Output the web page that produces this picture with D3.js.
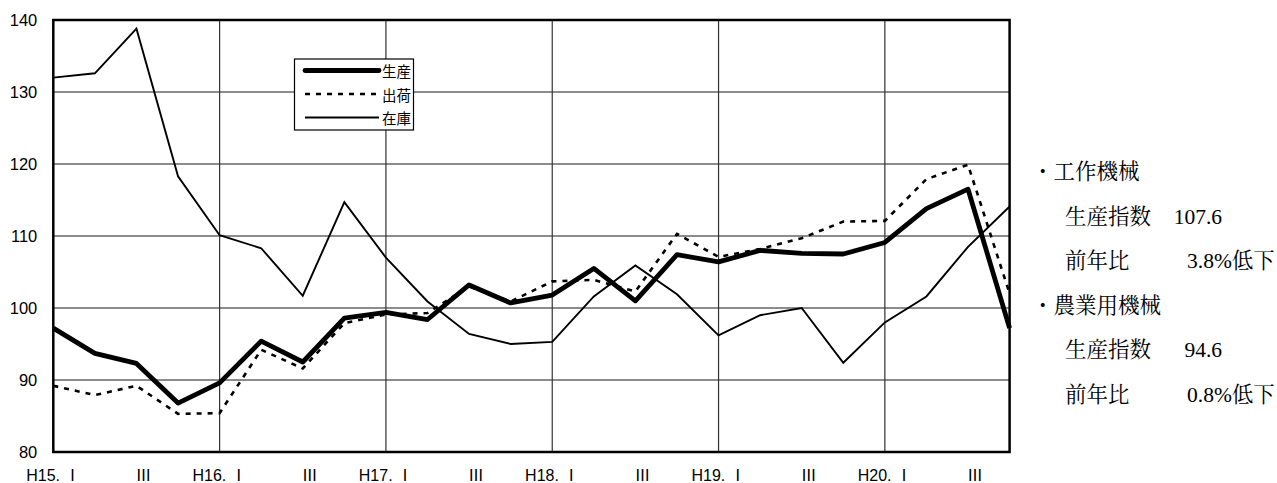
<!DOCTYPE html>
<html><head><meta charset="utf-8">
<script src="https://cdn.jsdelivr.net/npm/d3@7"></script>
<style>
html,body{margin:0;padding:0;background:#fff;}
svg{display:block;}
</style></head>
<body>
<svg id="c" width="1277" height="483"></svg>
<script>
// ---- data ----
const quarters = ["H15. Ⅰ","Ⅱ","Ⅲ","Ⅳ","H16. Ⅰ","Ⅱ","Ⅲ","Ⅳ","H17. Ⅰ","Ⅱ","Ⅲ","Ⅳ",
                  "H18. Ⅰ","Ⅱ","Ⅲ","Ⅳ","H19. Ⅰ","Ⅱ","Ⅲ","Ⅳ","H20. Ⅰ","Ⅱ","Ⅲ","Ⅳ"];
const production = [97.2, 93.7, 92.3, 86.8, 89.6, 95.4, 92.5, 98.6, 99.4, 98.4, 103.2, 100.7,
                    101.8, 105.5, 101.0, 107.4, 106.4, 108.0, 107.6, 107.5, 109.1, 113.8, 116.5, 97.2];
const shipments  = [89.2, 87.9, 89.2, 85.3, 85.4, 94.2, 91.6, 97.9, 99.1, 99.3, 103.0, 100.9,
                    103.7, 103.9, 102.3, 110.3, 107.1, 108.2, 109.7, 112.0, 112.1, 117.9, 119.9, 102.0];
const inventory  = [132.0, 132.6, 138.8, 118.3, 110.1, 108.3, 101.7, 114.7, 107.0, 100.9, 96.4, 95.0,
                    95.3, 101.6, 105.9, 101.9, 96.2, 99.0, 100.0, 92.4, 98.0, 101.6, 108.5, 114.1];
const yTicks = [80, 90, 100, 110, 120, 130, 140];
const seriesNames = ["生産", "出荷", "在庫"];
const noteLines = [
  {label: "・工作機械", value: "", tail: ""},
  {label: "生産指数", value: "107.6", tail: ""},
  {label: "前年比", value: "", tail: "3.8%低下"},
  {label: "・農業用機械", value: "", tail: ""},
  {label: "生産指数", value: "94.6", tail: ""},
  {label: "前年比", value: "", tail: "0.8%低下"}
];

// ---- layout ----
const svg = d3.select("#c");
const L = 53.3, R = 1009.6, T = 20, B = 452;
const x = d3.scaleLinear().domain([0, quarters.length - 1]).range([L, R]);
const y = d3.scaleLinear().domain([80, 140]).range([B, T]);
const sansFont = "'Liberation Sans', Arial, 'Noto Sans CJK JP', sans-serif";

// horizontal gridlines
svg.append("g").selectAll("line").data(yTicks.slice(1, -1)).join("line")
  .attr("x1", L).attr("x2", R).attr("y1", d => y(d)).attr("y2", d => y(d))
  .attr("stroke", "#666").attr("stroke-width", 1.3);
// vertical gridlines at year starts
const yearIdx = d3.range(4, quarters.length, 4);
svg.append("g").selectAll("line").data(yearIdx).join("line")
  .attr("x1", d => x(d)).attr("x2", d => x(d)).attr("y1", T).attr("y2", B)
  .attr("stroke", "#333").attr("stroke-width", 1.2);

// y-axis labels
const yAxis = d3.axisLeft(y).tickValues(yTicks).tickSize(0).tickPadding(16);
const ya = svg.append("g").attr("transform", `translate(${L},0)`).call(yAxis);
ya.select(".domain").remove();
ya.selectAll("text").attr("font-family", sansFont).attr("font-size", 16.5).attr("fill", "#000");

// x-axis labels (every other quarter)
const xa = svg.append("g");
xa.selectAll("text").data(quarters.map((q, i) => ({q, i})).filter(d => d.i % 2 === 0)).join("text")
  .attr("x", d => x(d.i) + (d.i % 4 === 2 ? 7 : 0))
  .attr("y", 481)
  .attr("text-anchor", "middle")
  .attr("font-family", sansFont).attr("font-size", 16).attr("fill", "#000")
  .text(d => d.q);

// series lines
const line = d3.line().x((d, i) => x(i)).y(d => y(d));
svg.append("path").datum(inventory).attr("d", line)
  .attr("fill", "none").attr("stroke", "#000").attr("stroke-width", 1.9).attr("stroke-linejoin", "miter");
svg.append("path").datum(shipments).attr("d", line)
  .attr("fill", "none").attr("stroke", "#000").attr("stroke-width", 2.6).attr("stroke-dasharray", "5,6");
svg.append("path").datum(production).attr("d", line)
  .attr("fill", "none").attr("stroke", "#000").attr("stroke-width", 4.8).attr("stroke-linejoin", "round");

// plot border
svg.append("rect").attr("x", L).attr("y", T).attr("width", R - L).attr("height", B - T)
  .attr("fill", "none").attr("stroke", "#000").attr("stroke-width", 2.5);

// legend
const lg = svg.append("g");
lg.append("rect").attr("x", 294.5).attr("y", 59).attr("width", 119).attr("height", 71)
  .attr("fill", "#fff").attr("stroke", "#000").attr("stroke-width", 1.2);
const legRows = [70.5, 94, 117.5];
const legStyles = [{w: 4.8, dash: null}, {w: 2.6, dash: "5,6"}, {w: 1.9, dash: null}];
seriesNames.forEach((name, k) => {
  const s = legStyles[k];
  const ln = lg.append("line").attr("x1", 305).attr("x2", 379)
    .attr("y1", legRows[k]).attr("y2", legRows[k])
    .attr("stroke", "#000").attr("stroke-width", s.w)
    .attr("stroke-linecap", k === 0 ? "round" : "butt");
  if (s.dash) ln.attr("stroke-dasharray", s.dash);
  lg.append("text").attr("x", 382).attr("y", legRows[k]).attr("dominant-baseline", "central")
    .attr("font-family", "'Noto Sans CJK JP', sans-serif").attr("font-size", 14.5).attr("fill", "#000")
    .text(name);
});

// side notes
const noteFont = "'Liberation Serif', 'Noto Serif CJK JP', 'Noto Sans CJK JP', serif";
const noteY = [172, 216.5, 261, 305.5, 350, 394.5];
const ng = svg.append("g").attr("font-family", noteFont).attr("font-size", 21.5).attr("fill", "#000");
noteLines.forEach((n, k) => {
  const isHead = n.label.startsWith("・");
  ng.append("text").attr("x", isHead ? 1032 : 1065).attr("y", noteY[k])
    .attr("dominant-baseline", "central").text(n.label);
  if (n.value) ng.append("text").attr("x", 1222).attr("y", noteY[k])
    .attr("text-anchor", "end").attr("dominant-baseline", "central").text(n.value);
  if (n.tail) ng.append("text").attr("x", 1187).attr("y", noteY[k])
    .attr("dominant-baseline", "central").text(n.tail);
});
</script>
</body></html>
